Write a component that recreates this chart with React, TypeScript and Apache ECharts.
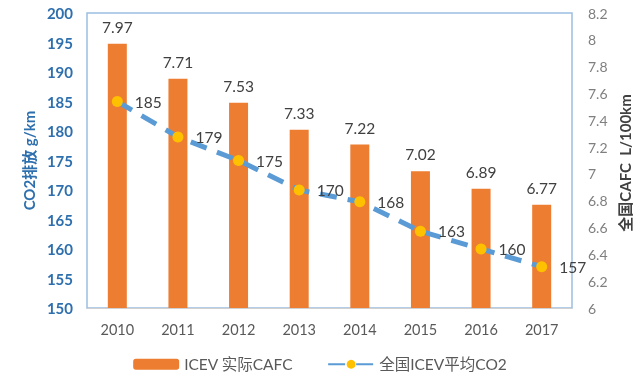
import React, { useEffect, useRef } from "react";
import * as echarts from "echarts";

const years = ["2010", "2011", "2012", "2013", "2014", "2015", "2016", "2017"];
const cafc = [7.97, 7.71, 7.53, 7.33, 7.22, 7.02, 6.89, 6.77];
const co2 = [185, 179, 175, 170, 168, 163, 160, 157];
const barName = "ICEV 实际CAFC";
const lineName = "全国ICEV平均CO2";
const rightAxisName = "全国CAFC  L/100km";

const FONT = "Lato, 'Noto Sans CJK SC', sans-serif";

export default function App() {
  const ref = useRef<HTMLDivElement>(null);
  useEffect(() => {
    if (!ref.current) return;
    const chart = echarts.init(ref.current, undefined, { renderer: "svg" });
    chart.setOption({
      animation: false,
      textStyle: { fontFamily: FONT },
      grid: {
        left: 87,
        right: 68,
        top: 13,
        bottom: 75,
        show: true,
        borderColor: "#9CBFE3",
        borderWidth: 1.5,
        containLabel: false,
      },
      legend: {
        bottom: 6,
        left: "center",
        itemWidth: 46,
        itemHeight: 11,
        itemGap: 34,
        textStyle: { color: "#595959", fontSize: 15.5, fontFamily: FONT },
        data: [barName, lineName],
      },
      graphic: [
        {
          type: "text",
          x: 625,
          y: 163,
          rotation: Math.PI / 2,
          style: {
            text: rightAxisName,
            align: "center",
            verticalAlign: "middle",
            fill: "#404040",
            fontSize: 15,
            fontWeight: "bold",
            fontFamily: FONT,
          },
        },
      ],
      xAxis: {
        type: "category",
        data: years,
        axisLine: { lineStyle: { color: "#D0D0D0", width: 1 } },
        axisTick: { show: false },
        axisLabel: { color: "#595959", fontSize: 14.5, margin: 14 },
      },
      yAxis: [
        {
          type: "value",
          min: 150,
          max: 200,
          interval: 5,
          position: "left",
          name: "CO2排放 g/km",
          nameLocation: "middle",
          nameGap: 50,
          nameTextStyle: { color: "#2E6FAE", fontSize: 15, fontWeight: "bold" },
          axisLine: { show: false },
          axisTick: { show: false },
          splitLine: { show: false },
          axisLabel: { color: "#2E6FAE", fontSize: 15, fontWeight: "bold", margin: 14 },
        },
        {
          type: "value",
          min: 6,
          max: 8.2,
          interval: 0.2,
          position: "right",
          axisLine: { show: false },
          axisTick: { show: false },
          splitLine: { show: false },
          axisLabel: { color: "#7F7F7F", fontSize: 14, margin: 16 },
        },
      ],
      series: [
        {
          name: barName,
          type: "bar",
          yAxisIndex: 1,
          data: cafc,
          barWidth: 19,
          itemStyle: { color: "#ED7D31" },
          label: {
            show: true,
            position: "top",
            distance: 9,
            color: "#404040",
            fontSize: 15.5,
          },
        },
        {
          name: lineName,
          type: "line",
          yAxisIndex: 0,
          data: co2,
          symbol: "circle",
          symbolSize: 11,
          itemStyle: { color: "#FFC000" },
          lineStyle: { color: "#5B9BD5", width: 5, type: [17, 11] },
          label: {
            show: true,
            position: "right",
            distance: 12,
            color: "#404040",
            fontSize: 15.5,
          },
          z: 3,
        },
      ],
    });
    return () => chart.dispose();
  }, []);
  return (
    <div
      ref={ref}
      style={{ position: "fixed", left: 0, top: 0, width: 640, height: 383 }}
    />
  );
}
